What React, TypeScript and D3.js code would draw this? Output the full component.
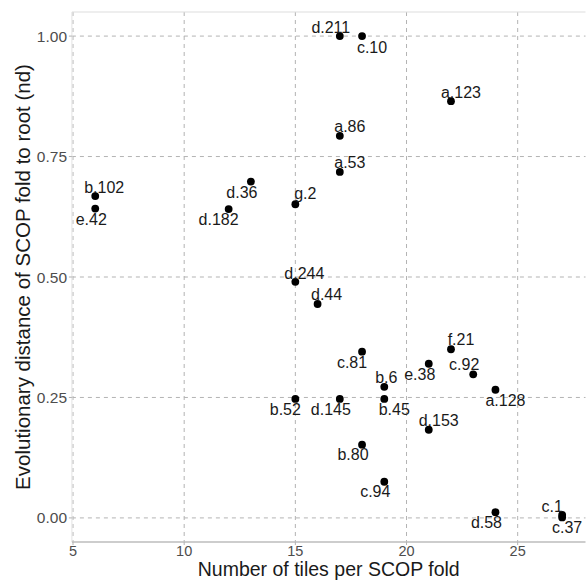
import * as d3 from 'd3';

// SCOP folds: tiles per fold vs evolutionary distance to root
const folds = ['b.102','e.42','d.36','d.182','g.2','d.211','c.10','a.123','a.86','a.53','d.244','d.44','c.81','f.21','e.38','c.92','b.6','a.128','b.52','d.145','b.45','d.153','b.80','c.94','d.58','c.1','c.37'];
const tiles = [6,6,13,12,15,17,18,22,17,17,15,16,18,22,21,23,19,24,15,17,19,21,18,19,24,27,27];
const dist = [0.668,0.642,0.698,0.641,0.651,1.0,1.0,0.865,0.793,0.718,0.49,0.444,0.345,0.35,0.32,0.298,0.272,0.266,0.247,0.247,0.247,0.183,0.152,0.075,0.012,0.006,0.001];

// label placement (px offset from the point, like ggrepel did it)
const labelDx = [9,-4,-9,-10,10,-9,10,10,10,10,9,9,-10,10,-9,-9,2,10,-10,-9,10,10,-9,-9,-9,-10,5];
const labelDy = [-3,16,16,16,-5,-3,17,-3,-4,-4,-3,-4,16,-4,16,-4,-4,16,16,16,16,-4,15,15,16,-3,16];

const xTicks = [5,10,15,20,25];
const yTicks = [0,0.25,0.5,0.75,1.0];

export default function App(){
  const width = 586;
  const height = 580;
  const left = 71.9, right = 585.5, top = 12, bottom = 542;

  const x = d3.scaleLinear().domain([4.95,28.05]).range([left,right]);
  const y = d3.scaleLinear().domain([-0.05,1.05]).range([bottom,top]);
  const font = '"Liberation Sans", Arial, sans-serif';

  return (
    <svg width={width} height={height} style={{position:'absolute',left:0,top:0,background:'white'}} fontFamily={font}>
      {/* grid */}
      {xTicks.map(t =>
        <line key={'gx'+t} x1={x(t)} x2={x(t)} y1={top} y2={bottom} stroke="#b3b3b3" strokeDasharray="4,4" strokeWidth={1}/>)}
      {yTicks.map(t =>
        <line key={'gy'+t} x1={left} x2={right} y1={y(t)} y2={y(t)} stroke="#b3b3b3" strokeDasharray="4,4" strokeWidth={1}/>)}
      {/* panel border */}
      <line x1={left} x2={right} y1={top} y2={top} stroke="#dedede" strokeWidth={1.2}/>
      <line x1={left} x2={left} y1={top} y2={bottom} stroke="#e4e4e4" strokeWidth={1}/>
      <line x1={left} x2={right} y1={bottom} y2={bottom} stroke="#bdbdbd" strokeWidth={1.3}/>
      {/* ticks */}
      {xTicks.map(t =>
        <line key={'tx'+t} x1={x(t)} x2={x(t)} y1={bottom} y2={bottom+3} stroke="#b3b3b3"/>)}
      {yTicks.map(t =>
        <line key={'ty'+t} x1={left-3} x2={left} y1={y(t)} y2={y(t)} stroke="#b3b3b3"/>)}
      {/* tick labels */}
      {xTicks.map(t =>
        <text key={'lx'+t} x={x(t)} y={555.5} textAnchor="middle" fontSize={14.5} fill="#4d4d4d">{t}</text>)}
      {yTicks.map(t =>
        <text key={'ly'+t} x={67} y={y(t)+5.5} textAnchor="end" fontSize={15.5} fill="#4d4d4d">{d3.format('.2f')(t)}</text>)}
      {/* points */}
      {folds.map((f,i) =>
        <circle key={'p'+f} cx={x(tiles[i])} cy={y(dist[i])} r={3.9} fill="black"/>)}
      {/* labels */}
      {folds.map((f,i) =>
        <text key={'t'+f} x={x(tiles[i])+labelDx[i]} y={y(dist[i])+labelDy[i]} textAnchor="middle" fontSize={16} fill="#1a1a1a">{f}</text>)}
      {/* axis titles */}
      <text x={(left+right)/2} y={575.5} textAnchor="middle" fontSize={19.5} fill="#1a1a1a">Number of tiles per SCOP fold</text>
      <text transform={`translate(29.5,${(top+bottom)/2}) rotate(-90)`} textAnchor="middle" fontSize={20.5} fill="#1a1a1a">Evolutionary distance of SCOP fold to root (nd)</text>
    </svg>
  );
}
